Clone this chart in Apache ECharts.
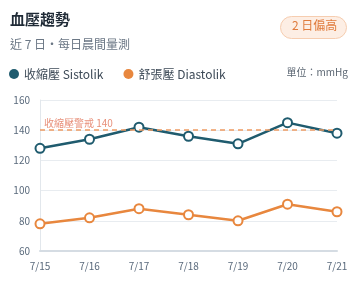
<!DOCTYPE html>
<html><head><meta charset="utf-8">
<script src="https://cdn.jsdelivr.net/npm/echarts@6/dist/echarts.min.js"></script>
<style>html,body{margin:0;padding:0;background:#fff}#c{width:356px;height:287px}</style>
</head><body><div id="c"></div>
<script>
const categories = ['7/15','7/16','7/17','7/18','7/19','7/20','7/21'];
const systolic = [128, 134, 142, 136, 131, 145, 138];
const diastolic = [78, 82, 88, 84, 80, 91, 86];
const yTicks = [60, 80, 100, 120, 140, 160];
const warnLevel = 140;

const FONT = '"Noto Sans CJK TC","Noto Sans",sans-serif';
const chart = echarts.init(document.getElementById('c'));
chart.setOption({
  backgroundColor: '#fff',
  textStyle: { fontFamily: FONT },
  graphic: [
    { type: 'text', left: 10, top: 12, style: { text: '血壓趨勢', font: 'bold 15px ' + FONT, fill: '#1f2a36' } },
    { type: 'text', left: 10, top: 38, style: { text: '近 7 日·每日晨間量測', font: '12px ' + FONT, fill: '#6b7785' } },
    { type: 'rect', left: 280, top: 16, shape: { width: 66, height: 22, r: 11 }, style: { fill: '#fdeee4', stroke: '#f6cdb0', lineWidth: 1 } },
    { type: 'text', left: 292, top: 19, style: { text: '2 日偏高', font: '12px ' + FONT, fill: '#e07b3c' } },
    { type: 'text', right: 8, top: 67, style: { text: '單位：mmHg', font: '10px ' + FONT, fill: '#5c6773' } }
  ],
  legend: {
    left: 4, top: 63, itemWidth: 10, itemHeight: 10, itemGap: 20, icon: 'circle',
    textStyle: { fontSize: 12, color: '#3d4a57', fontFamily: FONT },
    data: ['收縮壓 Sistolik', '舒張壓 Diastolik']
  },
  grid: { left: 40, right: 19, top: 100, bottom: 36 },
  xAxis: {
    type: 'category', data: categories, boundaryGap: false,
    axisLine: { lineStyle: { color: '#d5dce3', width: 2 } },
    axisTick: { show: false },
    axisLabel: { color: '#5a6a7c', fontSize: 10, margin: 10 }
  },
  yAxis: {
    type: 'value', min: yTicks[0], max: yTicks[yTicks.length - 1], interval: 20,
    axisLine: { show: true, lineStyle: { color: '#e2e7ec', width: 1 } },
    axisTick: { show: false },
    axisLabel: { color: '#5a6a7c', fontSize: 10, margin: 10 },
    splitLine: { lineStyle: { color: '#e8ecf0' } }
  },
  series: [
    {
      name: '收縮壓 Sistolik', type: 'line', data: systolic,
      symbol: 'emptyCircle', symbolSize: 9, color: '#1f5b6e',
      lineStyle: { width: 2.5, color: '#1f5b6e' },
      itemStyle: { color: '#1f5b6e', borderWidth: 2 },
      markLine: {
        silent: true, symbol: 'none',
        lineStyle: { type: [5, 4], color: '#ee9a62', width: 1.5 },
        label: { position: 'insideStartTop', formatter: '收縮壓警戒 140', color: '#e8907a', fontSize: 10, distance: [4, 2] },
        data: [{ yAxis: warnLevel }]
      }
    },
    {
      name: '舒張壓 Diastolik', type: 'line', data: diastolic,
      symbol: 'emptyCircle', symbolSize: 9, color: '#e8873e',
      lineStyle: { width: 2.5, color: '#e8873e' },
      itemStyle: { color: '#e8873e', borderWidth: 2 }
    }
  ]
});
</script></body></html>
